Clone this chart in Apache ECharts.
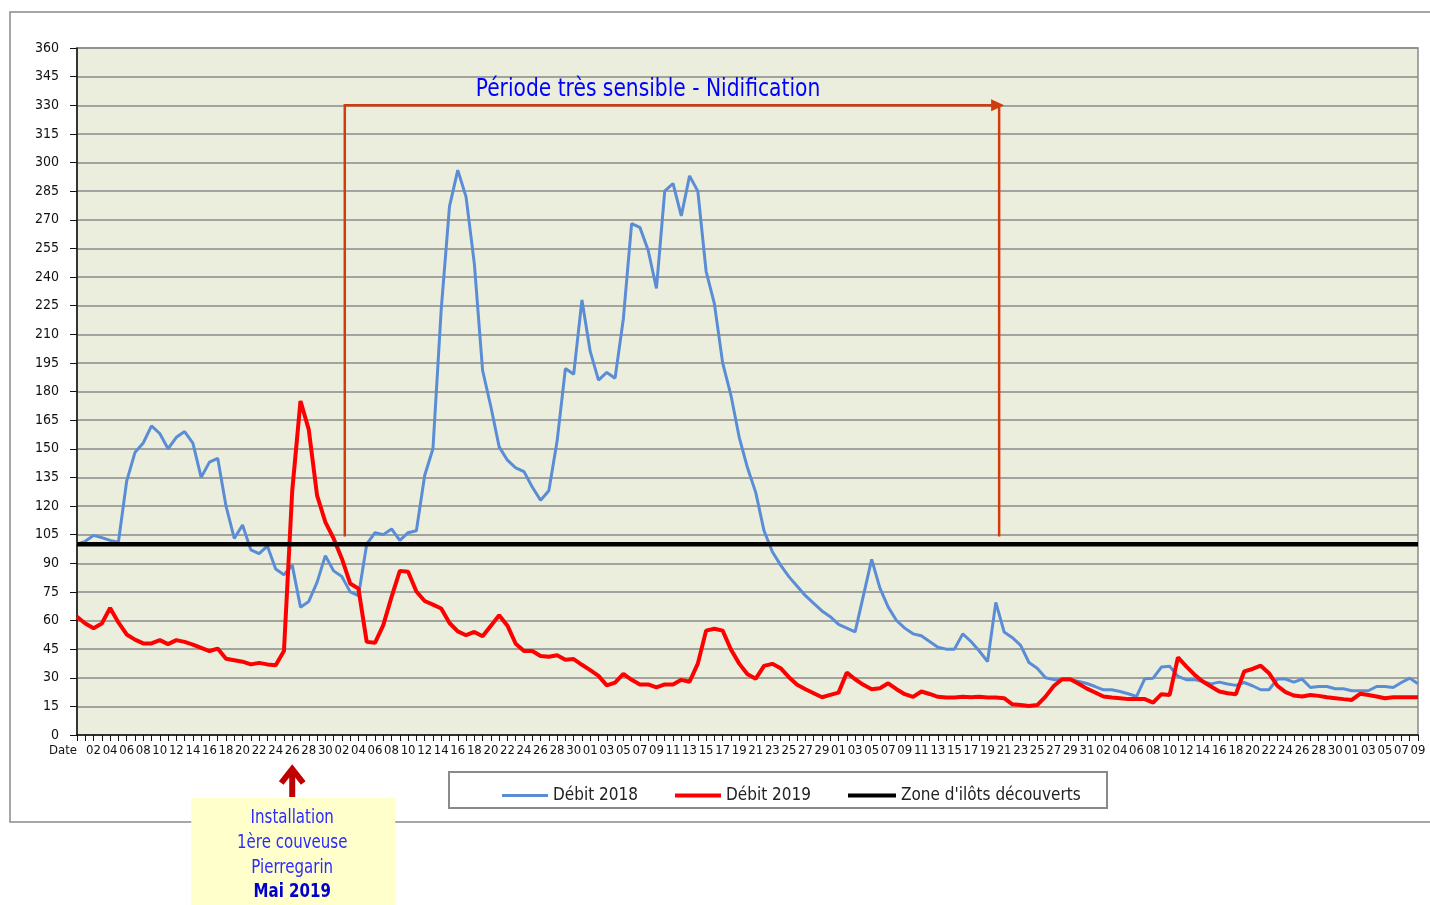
<!DOCTYPE html>
<html>
<head>
<meta charset="utf-8">
<script src="https://cdn.jsdelivr.net/npm/echarts@6/dist/echarts.min.js"></script>
<style>
  html, body { margin: 0; padding: 0; background: #fff; }
  #chart { width: 1430px; height: 905px; }
</style>
</head>
<body>
<div id="chart"></div>
<script>
// Débit journalier avril -> septembre (m3/s)

// jours par mois : avril, mai, juin, juillet, août, septembre (jusqu'au 09)
const monthLengths = [30, 31, 30, 31, 31, 9];

const debit2018 = [
    100, 101.5, 104.6, 103.4, 102, 101, 133, 148, 153, 162,
    158, 150, 156, 159, 153, 135, 143, 145, 120, 103,
    110, 97, 95, 99, 87, 84, 89, 67, 70, 80,
    94, 86, 83, 75, 73, 100, 106, 105, 108, 102,
    106, 107, 136, 150, 223, 277, 296, 282, 247, 191,
    172, 151, 144, 140, 138, 130, 123, 128, 154, 192,
    189, 228, 201, 186, 190, 187, 218, 268, 266, 254,
    234, 285, 289, 272, 293, 285, 243, 226, 195, 178,
    156, 140, 127, 107, 96, 89, 83, 78, 73, 69,
    65, 62, 58, 56, 54, 73, 92, 77, 67, 60,
    56, 53, 52, 49, 46, 45, 45, 53, 49, 44,
    38.5, 69.5, 54, 51, 47, 38, 35, 30, 29, 29,
    29, 28, 27, 25.4, 23.7, 23.7, 22.8, 21.6, 20.2, 29.5,
    29.8, 35.6, 36, 30.7, 29, 29, 28, 26.8, 27.7, 26.7,
    26, 27.5, 25.8, 23.7, 23.7, 29.3, 29.3, 27.7, 29.3, 24.9,
    25.4, 25.4, 24.2, 24.2, 23.2, 23.2, 23.2, 25.4, 25.4, 24.9,
    27.5, 29.8, 26.8
];

const debit2019 = [
    62, 58.4, 56, 58.4, 66.6, 59, 52.7, 50, 48, 48,
    49.7, 47.6, 49.7, 48.8, 47.4, 45.7, 44, 45.3, 40, 39.2,
    38.4, 37, 37.8, 37, 36.6, 44, 128, 175, 160, 125.6,
    111.6, 103, 92.4, 79.4, 76.7, 48.8, 48.3, 57.6, 72.4, 86,
    85.6, 75.2, 70.2, 68.3, 66.3, 58.7, 54.3, 52.3, 54, 51.7,
    57.3, 62.7, 57.3, 47.8, 44, 44, 41.4, 41, 41.8, 39.4,
    39.8, 36.8, 34, 31, 26, 27.5, 32, 28.9, 26.5, 26.5,
    24.9, 26.5, 26.5, 28.9, 27.9, 37.4, 54.7, 55.7, 54.7, 44.8,
    37.4, 31.8, 29.5, 36.2, 37.3, 35, 30.3, 26.3, 24, 21.9,
    19.8, 21, 22.2, 32.7, 29.2, 26.3, 24, 24.5, 27.1, 24,
    21.4, 20, 22.8, 21.5, 20, 19.6, 19.6, 20.1, 19.8, 20.1,
    19.6, 19.6, 19.3, 16.1, 15.7, 15.2, 15.7, 20.1, 25.7, 29.2,
    29.2, 26.8, 24.3, 22.3, 20.2, 19.6, 19.3, 18.8, 18.8, 18.8,
    17, 21.4, 21, 40.7, 36, 31.6, 28, 25.4, 22.8, 21.9,
    21.4, 33.3, 34.6, 36.3, 32.4, 25.8, 22.5, 20.7, 20.2, 21,
    20.5, 19.8, 19.3, 18.8, 18.4, 21.6, 21, 20.2, 19.3, 19.8,
    19.8, 19.8, 19.8
];

// seuil d'îlots découverts
const seuilIlots = 100;

// période de nidification (indices de catégorie) et hauteurs de la flèche
const nidifDebut = 32.35;
const nidifFin = 111.4;
const nidifBas = 104;
const nidifHaut = 330;

// repère installation couveuse
const installIndex = 26;

const yTicks = { min: 0, max: 360, step: 15 };

// libellés de l'axe des x
const categories = ['Date'];
for (let m = 0; m < monthLengths.length; m++) {
    for (let d = 1; d <= monthLengths[m]; d++) {
        categories.push(d < 10 ? '0' + d : String(d));
    }
}
const seuilData = categories.map(function() { return seuilIlots; });

const narrow = "'DejaVu Sans Condensed', 'Liberation Sans Narrow', sans-serif";

const chart = echarts.init(document.getElementById('chart'));

const legendText = { fontFamily: narrow, fontSize: 17, color: '#222' };

const option = {
    animation: false,
    backgroundColor: '#ffffff',
    grid: {
        left: 77,
        right: 12,
        top: 48,
        bottom: 170,
        show: true,
        backgroundColor: '#EBEEDD',
        borderColor: '#8a8a8a',
        borderWidth: 1.5
    },
    legend: [
        {
            data: ['Débit 2018'],
            left: 497, top: 782,
            icon: 'rect', itemWidth: 46, itemHeight: 3, itemGap: 6,
            textStyle: legendText
        },
        {
            data: ['Débit 2019'],
            left: 670, top: 782,
            icon: 'rect', itemWidth: 46, itemHeight: 4, itemGap: 6,
            textStyle: legendText
        },
        {
            data: ["Zone d'ilôts découverts"],
            left: 843, top: 782,
            icon: 'rect', itemWidth: 48, itemHeight: 4, itemGap: 6,
            textStyle: legendText
        }
    ],
    xAxis: {
        type: 'category',
        data: categories,
        boundaryGap: false,
        axisLine: { lineStyle: { color: '#111', width: 1.5 } },
        axisTick: { interval: 0, length: 6, lineStyle: { color: '#111' } },
        axisLabel: {
            interval: 1,
            showMinLabel: true,
            alignMinLabel: 'right',
            hideOverlap: false,
            margin: 9,
            color: '#111',
            fontFamily: narrow,
            fontSize: 13
        },
        splitLine: { show: false }
    },
    yAxis: {
        type: 'value',
        min: yTicks.min,
        max: yTicks.max,
        interval: yTicks.step,
        axisLine: { show: true, lineStyle: { color: '#111', width: 1.5 } },
        axisTick: { show: true, length: 7, lineStyle: { color: '#111' } },
        axisLabel: {
            margin: 18,
            color: '#111',
            fontFamily: narrow,
            fontSize: 14
        },
        splitLine: { lineStyle: { color: '#8a8a8a', width: 1.5 } }
    },
    series: [
        {
            name: 'Débit 2018',
            type: 'line',
            data: debit2018,
            showSymbol: false,
            lineStyle: { width: 3, color: '#5A8DD6' },
            itemStyle: { color: '#5A8DD6' },
            z: 3
        },
        {
            name: 'Débit 2019',
            type: 'line',
            data: debit2019,
            showSymbol: false,
            lineStyle: { width: 4, color: '#FF0000' },
            itemStyle: { color: '#FF0000' },
            z: 4
        },
        {
            name: "Zone d'ilôts découverts",
            type: 'line',
            data: seuilData,
            showSymbol: false,
            lineStyle: { width: 4.5, color: '#000000' },
            itemStyle: { color: '#000000' },
            z: 5
        }
    ]
};

chart.setOption(option);

// position en pixels à partir d'un indice (éventuellement fractionnaire) et d'une valeur
function toPx(idx, val) {
    const p0 = chart.convertToPixel({ gridIndex: 0 }, [0, val]);
    const p1 = chart.convertToPixel({ gridIndex: 0 }, [1, val]);
    return [p0[0] + idx * (p1[0] - p0[0]), p0[1]];
}

const a = toPx(nidifDebut, nidifBas);
const b = toPx(nidifDebut, nidifHaut);
const c = toPx(nidifFin, nidifHaut);
const d = toPx(nidifFin, nidifBas);
const inst = toPx(installIndex, 0);
const bracketColor = '#D23C0C';

function noteText(txt, y, bold) {
    return {
        type: 'text', z: 21,
        x: inst[0], y: y, scaleX: 0.88,
        style: {
            text: txt,
            fill: bold ? '#0000CC' : '#2B2BFF',
            font: (bold ? 'bold ' : '') + '19px ' + narrow,
            align: 'center',
            verticalAlign: 'middle'
        }
    };
}

chart.setOption({
    graphic: [
        // cadre extérieur
        {
            type: 'rect', z: -10, silent: true,
            shape: { x: 10, y: 12, width: 1440, height: 810 },
            style: { fill: null, stroke: '#8a8a8a', lineWidth: 1.5 }
        },
        // cadre de la légende
        {
            type: 'rect', z: 1,
            shape: { x: 449, y: 772, width: 658, height: 36 },
            style: { fill: '#ffffff', stroke: '#8a8a8a', lineWidth: 2 }
        },
        // flèche période de nidification
        {
            type: 'polyline', z: 50,
            shape: { points: [a, b, [c[0] + 2, c[1]]] },
            style: { stroke: bracketColor, lineWidth: 2.5, fill: null }
        },
        {
            type: 'polyline', z: 50,
            shape: { points: [c, d] },
            style: { stroke: bracketColor, lineWidth: 2.5, fill: null }
        },
        {
            type: 'polygon', z: 50,
            shape: { points: [[c[0] - 8, c[1] - 6], [c[0] + 5, c[1]], [c[0] - 8, c[1] + 6]] },
            style: { fill: bracketColor }
        },
        {
            type: 'text', z: 50,
            x: 648, y: b[1] - 16, scaleX: 0.9,
            style: {
                text: 'Période très sensible - Nidification',
                fill: '#0000FF',
                font: '25px ' + narrow,
                align: 'center',
                verticalAlign: 'middle'
            }
        },
        // encadré installation couveuse
        {
            type: 'rect', z: 20,
            shape: { x: inst[0] - 101, y: 798, width: 204, height: 107 },
            style: { fill: '#FFFFCC' }
        },
        noteText('Installation', 818, false),
        noteText('1ère couveuse', 843, false),
        noteText('Pierregarin', 868, false),
        noteText('Mai 2019', 892, true),
        // flèche vers la date d'installation
        {
            type: 'polyline', z: 21,
            shape: { points: [[inst[0], 797], [inst[0], 770]] },
            style: { stroke: '#C00000', lineWidth: 6, fill: null }
        },
        {
            type: 'polyline', z: 21,
            shape: { points: [[inst[0] - 11, 783], [inst[0], 769], [inst[0] + 11, 783]] },
            style: { stroke: '#C00000', lineWidth: 6, fill: null }
        }
    ]
});
</script>
</body>
</html>
